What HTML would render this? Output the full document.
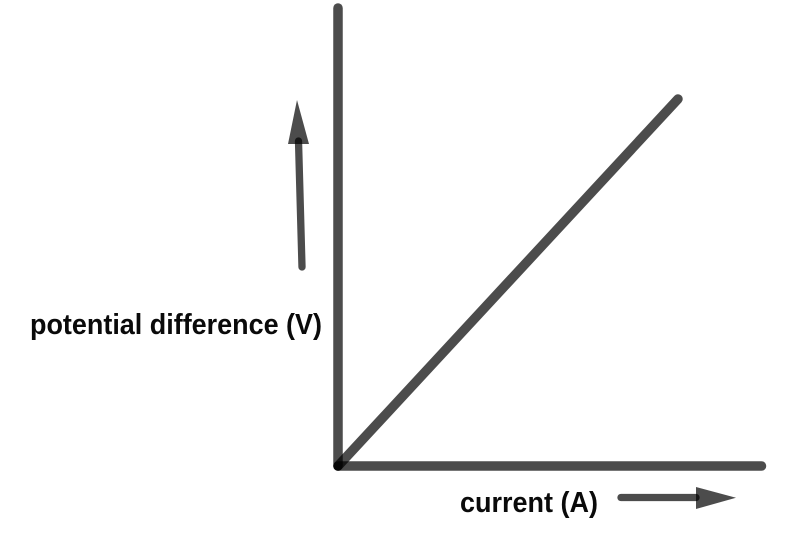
<!DOCTYPE html>
<html>
<head>
<meta charset="utf-8">
<style>
html,body{margin:0;padding:0;background:#fff;width:790px;height:543px;overflow:hidden}
svg{display:block}
text{font-family:"Liberation Sans",Arial,sans-serif;font-weight:bold;font-size:28.5px;fill:#0a0a0a}
</style>
</head>
<body>
<svg width="790" height="543" viewBox="0 0 790 543" xmlns="http://www.w3.org/2000/svg">
<g stroke="#000" stroke-opacity="0.7" stroke-width="9.5" stroke-linecap="round" fill="none">
<line x1="338" y1="8" x2="338" y2="466"/>
<line x1="338" y1="466" x2="761.5" y2="466"/>
<line x1="338" y1="466" x2="678" y2="99"/>
</g>
<g stroke="#000" stroke-opacity="0.7" stroke-width="7.3" stroke-linecap="round" fill="none">
<line x1="298.5" y1="141" x2="302" y2="267"/>
<line x1="621" y1="497.5" x2="696" y2="497.5"/>
</g>
<polygon points="297,100 309,144 288,144" fill="#000" fill-opacity="0.7"/>
<polygon points="696,487 736,497.7 696,509" fill="#000" fill-opacity="0.7"/>
<text x="30" y="334" textLength="292" lengthAdjust="spacingAndGlyphs">potential difference (V)</text>
<text x="460" y="512" textLength="138" lengthAdjust="spacingAndGlyphs">current (A)</text>
</svg>
</body>
</html>
